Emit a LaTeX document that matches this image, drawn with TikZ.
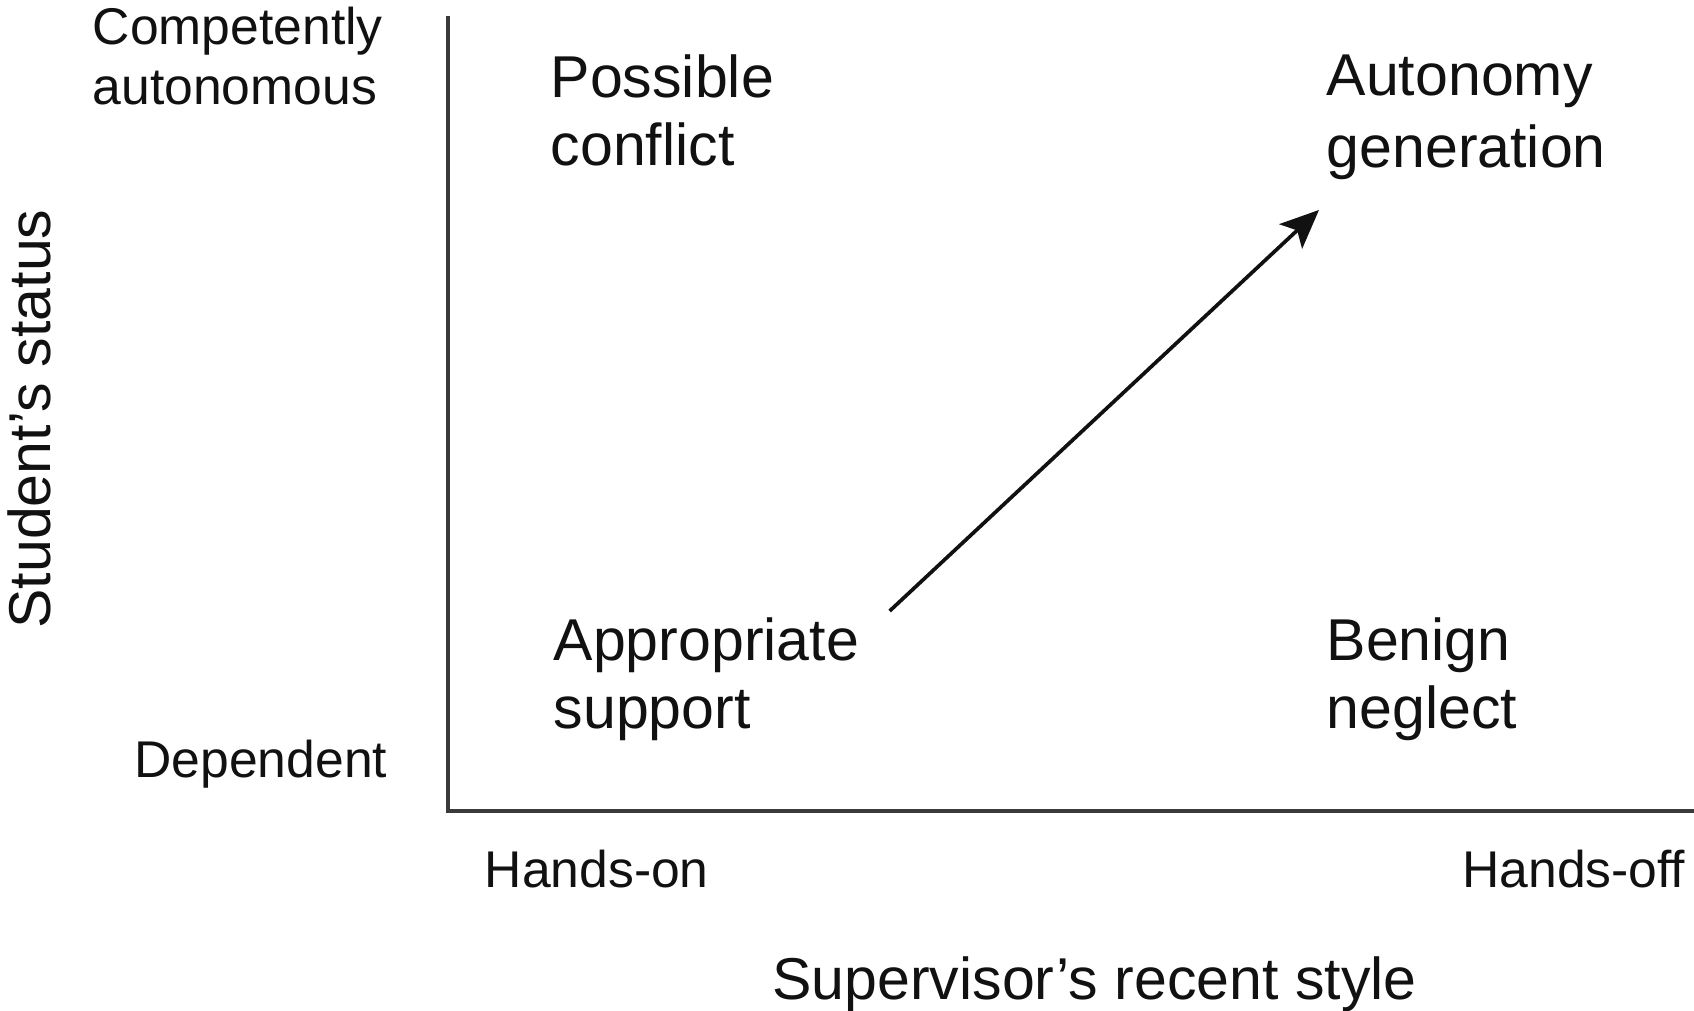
\documentclass[tikz,border=0pt]{standalone}
\usepackage{fontspec}
\setmainfont{Liberation Sans}
\usetikzlibrary{arrows.meta,positioning}
\definecolor{AxisGray}{HTML}{3A3A3A}
\definecolor{InkBlack}{HTML}{111111}
\tikzset{
  qlabel/.style={inner sep=0pt,align=left,anchor=north west,text=InkBlack,
                 font=\fontsize{16.8}{19.4}\selectfont},
  slabel/.style={inner sep=0pt,align=left,text=InkBlack,
                 font=\fontsize{14.7}{17.1}\selectfont},
  atitle/.style={inner sep=0pt,anchor=base,text=InkBlack,
                 font=\fontsize{16.8}{19.1}\selectfont},
  axisline/.style={line width=1pt,color=AxisGray},
  trend/.style={-{Stealth[length=11pt,width=9.5pt,inset=2.5pt]},line width=1.05pt,color=InkBlack},
}
\begin{document}
\begin{tikzpicture}
  \useasboundingbox (0,0) rectangle (16.94,10.10);

  % axes
  \coordinate (TOP) at (4.48,9.94);
  \coordinate (ORG) at (4.48,1.99);
  \coordinate (END) at (16.94,1.99);
  \draw[axisline] (TOP) -- (ORG) -- (END);

  % quadrants
  \node[qlabel] (CONF) at (5.50,9.56) {Possible\\conflict};
  \node[qlabel] (AUTO) at (13.26,9.56) {Autonomy\\[1pt]generation};
  \node[qlabel] (APPR) at (5.53,3.93) {Appropriate\\support};
  \node[qlabel] (BENI) at (13.26,3.93) {Benign\\neglect};

  % axis ends
  \node[slabel,anchor=north west] (COMP) at (0.92,10.04) {Competently\\autonomous};
  \node[slabel,anchor=base east] (DEPN) at (3.88,2.32) {Dependent};
  \node[slabel,anchor=base west] (HON) at (4.84,1.23) {Hands-on};
  \node[slabel,anchor=base east] (HOFF) at (16.86,1.23) {Hands-off};

  % axis titles
  \node[atitle] (XT) at (10.945,0.10) {Supervisor’s recent style};
  \node[atitle,rotate=90] (YT) at (0.51,5.91) {Student’s status};

  \draw[trend] ([shift={(0.30,0.06)}]APPR.north east) -- ([shift={(-0.07,-0.30)}]AUTO.south west);

\end{tikzpicture}
\end{document}
